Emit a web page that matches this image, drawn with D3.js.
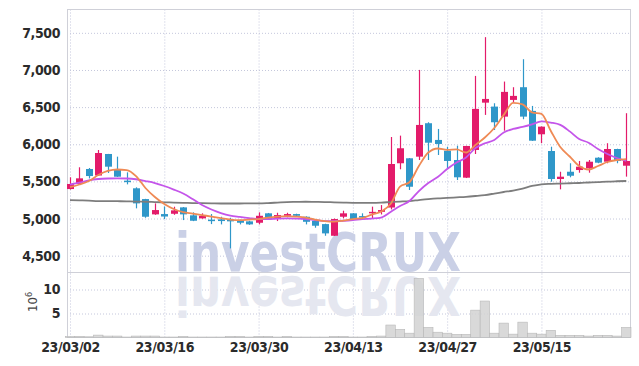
<!DOCTYPE html>
<html>
<head>
<meta charset="utf-8">
<script src="https://cdn.jsdelivr.net/npm/d3@7"></script>
<style>
  body { margin: 0; background: #fff; }
  svg { display: block; }
</style>
</head>
<body>
<div id="chart"></div>
<script>
// trading days, 23/03/02 .. 23/05/26
const dates = [
  "23/03/02","23/03/03","23/03/06","23/03/07","23/03/08","23/03/09","23/03/10","23/03/13","23/03/14","23/03/15",
  "23/03/16","23/03/17","23/03/20","23/03/21","23/03/22","23/03/23","23/03/24","23/03/27","23/03/28","23/03/29",
  "23/03/30","23/03/31","23/04/03","23/04/04","23/04/05","23/04/06","23/04/07","23/04/10","23/04/11","23/04/12",
  "23/04/13","23/04/14","23/04/17","23/04/18","23/04/19","23/04/20","23/04/21","23/04/24","23/04/25","23/04/26",
  "23/04/27","23/04/28","23/05/02","23/05/03","23/05/04","23/05/08","23/05/09","23/05/10","23/05/11","23/05/12",
  "23/05/15","23/05/16","23/05/17","23/05/18","23/05/19","23/05/22","23/05/23","23/05/24","23/05/25","23/05/26"
];

const open = [
  5397,5465,5667,5579,5869,5663,5510,5407,5262,5056,
  5060,5064,5150,5043,5002,4985,4989,4989,4979,4962,
  4943,5070,5002,5037,5060,5024,4970,4925,4768,5024,
  5070,5033,5070,5090,5148,5744,5811,5833,6283,6058,
  5913,5788,5550,5923,6560,6507,6372,6597,6768,6449,
  6134,5909,5532,5630,5653,5676,5819,5765,5936,5711
];
const high = [
  5555,5690,5680,5923,5870,5833,5622,5420,5265,5204,
  5163,5159,5155,5083,5070,5060,5024,5010,4985,4970,
  5083,5075,5078,5078,5065,5030,4975,4930,5000,5105,
  5072,5070,5160,5181,6098,6116,5815,7001,6296,6206,
  5967,5981,5980,6920,7442,6552,6844,6768,7145,6516,
  6240,5967,5630,5744,5775,5788,5825,6014,5940,6418
];
const low = [
  5390,5460,5540,5575,5613,5560,5460,5137,5010,5050,
  4993,5050,4979,4965,4998,4925,4921,4598,4921,4915,
  4921,4990,4966,5016,5030,4921,4876,4768,4765,5003,
  4980,4993,5003,5055,5123,5663,5384,5788,5788,5855,
  5676,5518,5545,5869,6395,6192,6183,6560,6337,6045,
  6014,5496,5393,5555,5617,5617,5745,5744,5744,5564
];
const close = [
  5465,5541,5572,5882,5698,5563,5490,5204,5024,5114,
  5027,5110,5056,4970,5037,4977,4966,4962,4943,4921,
  5037,4997,5047,5060,5037,4956,4903,4800,4993,5070,
  4993,5020,5090,5114,5734,5946,5428,6260,6021,6004,
  5775,5555,5977,6476,6610,6296,6705,6651,6372,6048,
  6237,5532,5563,5576,5698,5765,5752,5936,5775,5775
];

const ma5 = [
  5424,5458,5505,5586,5640,5660,5653,5572,5411,5289,
  5195,5128,5087,5067,5047,5026,5006,4986,4979,4986,
  4993,5013,5026,5033,5026,5013,4986,4966,4959,4973,
  4993,5006,5053,5094,5195,5430,5488,5707,5889,5943,
  5923,5930,5889,5990,6091,6219,6395,6556,6536,6428,
  6408,6179,5963,5835,5707,5660,5707,5761,5788,5801
];
const ma20 = [
  5458,5482,5514,5532,5539,5541,5539,5529,5505,5478,
  5438,5390,5336,5262,5181,5121,5074,5040,5022,5006,
  4993,4993,4999,5002,4999,4993,4979,4966,4966,4970,
  4979,4993,4999,5013,5087,5168,5235,5370,5478,5559,
  5667,5754,5822,5950,6013,6058,6159,6206,6233,6267,
  6307,6291,6260,6173,6071,6021,5936,5869,5815,5775
];
const ma120 = [
  5249,5245,5241,5235,5235,5233,5231,5228,5226,5222,
  5218,5215,5212,5208,5206,5204,5202,5202,5202,5204,
  5204,5208,5215,5222,5224,5226,5224,5222,5218,5215,
  5212,5212,5212,5215,5222,5228,5235,5249,5262,5272,
  5278,5285,5292,5303,5316,5336,5357,5377,5404,5438,
  5460,5467,5471,5475,5478,5485,5491,5498,5502,5505
];

// volume in millions of shares
const volume = [
  0.2,0.25,0.15,0.5,0.3,0.3,0.1,0.3,0.3,0.3,
  0.1,0.1,0.25,0.1,0.1,0.1,0.1,0.25,0.25,0.1,
  0.25,0.25,0.1,0.25,0.1,0.1,0.1,0.1,0.25,0.25,
  0.1,0.1,0.25,0.3,2.6,1.7,0.9,12.3,2.1,1.1,
  0.9,0.65,0.65,5.7,7.6,0.9,3.0,0.7,3.2,0.9,
  0.7,1.5,0.45,0.45,0.45,0.3,0.45,0.45,0.3,2.1
];

const priceTicks = [4500,5000,5500,6000,6500,7000,7500];
const volTicks = [5,10];
const dateTicks = [0,10,20,30,40,50];

const W = 639, H = 366;
const padLeft = 67, padRight = 631, padTop = 9, padMid = 272, padBottom = 337.5;

const svg = d3.select("#chart").append("svg")
  .attr("width", W).attr("height", H);

const x = d3.scaleLinear().domain([-0.32, 59.5]).range([padLeft, padRight]);
const y = d3.scaleLinear().domain([4280, 7821]).range([padMid, padTop]);
const yv = d3.scaleLinear().domain([0, 13.65]).range([padBottom, padMid]);

const labelFont = "'DejaVu Sans Condensed', 'Liberation Sans Narrow', sans-serif";
const gridColor = "#c4c7dc";

// grid lines (drawn with axes)
const gy = svg.append("g").attr("transform", "translate(" + padLeft + ",0)")
  .call(d3.axisLeft(y).tickValues(priceTicks).tickSize(-(padRight - padLeft)).tickFormat(""));
const gv = svg.append("g").attr("transform", "translate(" + padLeft + ",0)")
  .call(d3.axisLeft(yv).tickValues(volTicks).tickSize(-(padRight - padLeft)).tickFormat(""));
const gxTop = svg.append("g").attr("transform", "translate(0," + padBottom + ")")
  .call(d3.axisBottom(x).tickValues(dateTicks).tickSize(-(padBottom - padTop)).tickFormat(""));
[gy, gv, gxTop].forEach(function(g) {
  g.select(".domain").remove();
  g.selectAll(".tick line").attr("stroke", gridColor).attr("stroke-dasharray", "1,2");
});

// frame
const frame = svg.append("g").attr("stroke", "#cfd0d8").attr("stroke-width", 1).attr("fill", "none");
frame.append("rect").attr("x", padLeft + 0.5).attr("y", padTop + 0.5)
  .attr("width", padRight - padLeft - 1).attr("height", padBottom - padTop - 0.5);
frame.append("line").attr("x1", padLeft).attr("x2", padRight).attr("y1", padMid + 0.5).attr("y2", padMid + 0.5);

// watermark + reflection
const wm = svg.append("g").attr("font-family", "'DejaVu Sans Condensed', 'DejaVu Sans', sans-serif").attr("font-weight", "bold");
wm.append("text").attr("x", 175).attr("y", padMid - 1).attr("font-size", 53)
  .attr("textLength", 286).attr("lengthAdjust", "spacingAndGlyphs")
  .attr("fill", "#cad0e6").text("investCRUX");
wm.append("text").attr("x", 175).attr("y", padMid - 1).attr("font-size", 53)
  .attr("transform", "translate(0," + (2 * padMid + 4) + ") scale(1,-1)")
  .attr("textLength", 286).attr("lengthAdjust", "spacingAndGlyphs")
  .attr("fill", "#e5e7f0").text("investCRUX");

// volume bars
const slot = x(1) - x(0);
svg.append("g").selectAll("rect")
  .data(volume)
  .enter()
  .append("rect")
  .attr("x", function(d, i) { return x(i) - slot / 2; })
  .attr("y", function(d) { return yv(d); })
  .attr("width", slot)
  .attr("height", function(d) { return padBottom - yv(d); })
  .attr("fill", "#d2d2d2")
  .attr("fill-opacity", 0.85)
  .attr("stroke", "#b8b8b8")
  .attr("stroke-width", 0.6);

// candles
const upColor = "#e31b6a", downColor = "#2f97c9";
const candles = svg.append("g").selectAll("g")
  .data(d3.range(dates.length))
  .enter()
  .append("g")
  .attr("fill", function(i) { return close[i] >= open[i] ? upColor : downColor; })
  .attr("stroke", function(i) { return close[i] >= open[i] ? upColor : downColor; });

candles.append("line")
  .attr("x1", function(i) { return Math.round(x(i)) + 0.5; })
  .attr("x2", function(i) { return Math.round(x(i)) + 0.5; })
  .attr("y1", function(i) { return y(high[i]); })
  .attr("y2", function(i) { return y(low[i]); })
  .attr("stroke-width", 1.2);

candles.append("rect")
  .attr("x", function(i) { return Math.round(x(i)) - 3; })
  .attr("width", 7)
  .attr("y", function(i) { return y(Math.max(open[i], close[i])); })
  .attr("height", function(i) { return Math.max(1.5, Math.abs(y(open[i]) - y(close[i]))); })
  .attr("stroke", "none");

// moving averages
const line = function(vals) {
  return d3.line().x(function(d, i) { return x(i); }).y(function(d) { return y(d); }).curve(d3.curveMonotoneX)(vals);
};
svg.append("path").attr("d", line(ma120)).attr("fill", "none").attr("stroke", "#7d7d7d").attr("stroke-width", 1.8);
svg.append("path").attr("d", line(ma20)).attr("fill", "none").attr("stroke", "#c455ea").attr("stroke-width", 1.8);
svg.append("path").attr("d", line(ma5)).attr("fill", "none").attr("stroke", "#ef8a55").attr("stroke-width", 1.8);

// axis labels
const ay = svg.append("g").attr("transform", "translate(" + padLeft + ",0)")
  .call(d3.axisLeft(y).tickValues(priceTicks).tickSize(0).tickPadding(7).tickFormat(d3.format(",")));
const av = svg.append("g").attr("transform", "translate(" + padLeft + ",0)")
  .call(d3.axisLeft(yv).tickValues(volTicks).tickSize(0).tickPadding(7));
const ax = svg.append("g").attr("transform", "translate(0," + padBottom + ")")
  .call(d3.axisBottom(x).tickValues(dateTicks).tickSize(0).tickPadding(5).tickFormat(function(i) { return dates[i]; }));
[ay, av, ax].forEach(function(g) {
  g.select(".domain").remove();
  g.selectAll("text").attr("font-family", labelFont).attr("font-size", 14)
    .attr("font-weight", "bold").attr("fill", "#2b2b2b").attr("letter-spacing", -0.4);
});

// 10^6 unit label
const unit = svg.append("text")
  .attr("transform", "translate(37,312) rotate(-90)")
  .attr("font-family", labelFont).attr("font-size", 13).attr("fill", "#444");
unit.append("tspan").text("10");
unit.append("tspan").attr("dy", -5).attr("font-size", 9).text("6");
</script>
</body>
</html>
